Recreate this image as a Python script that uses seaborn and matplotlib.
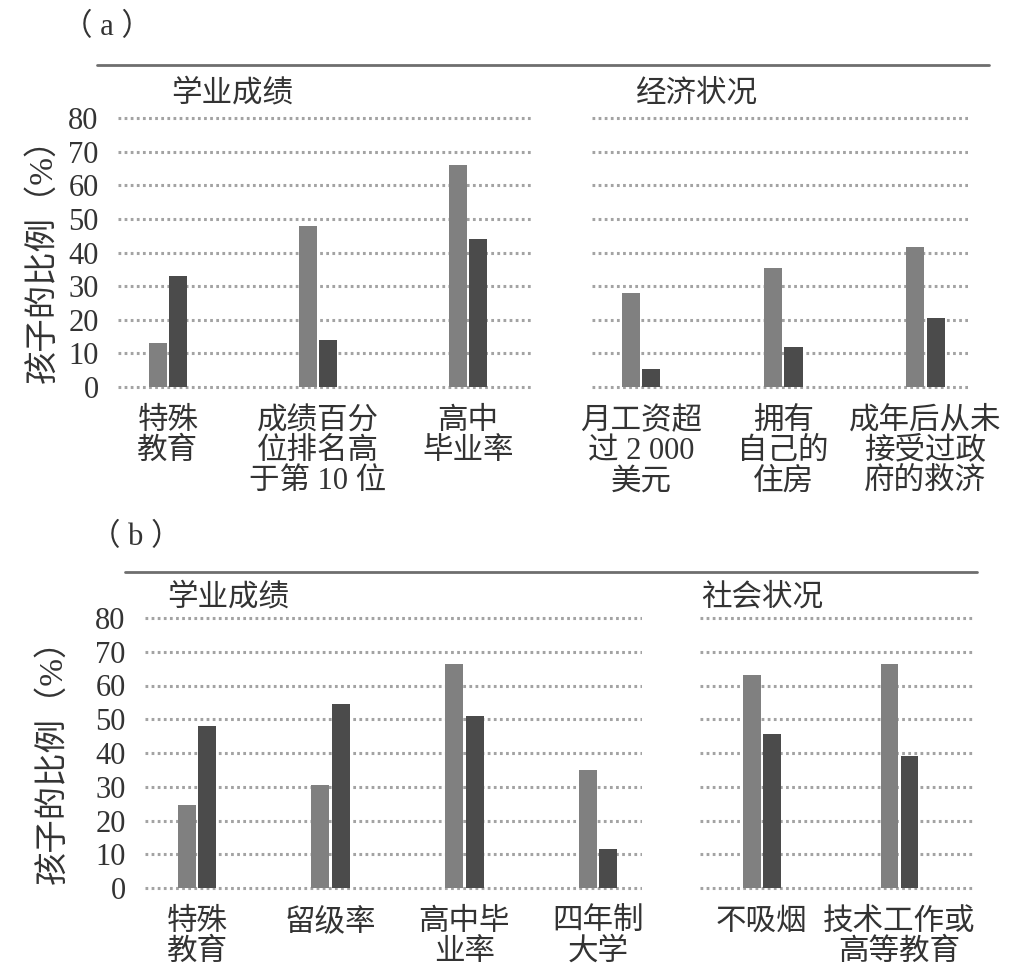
import matplotlib
matplotlib.use("Agg")
import matplotlib.pyplot as plt
from matplotlib.lines import Line2D
import seaborn as sns
import pandas as pd

# data
series = ["浅色组", "深色组"]

a_acad_cats = ["特殊\n教育", "成绩百分\n位排名高\n于第 10 位", "高中\n毕业率"]
a_acad_light = [13, 48, 66]
a_acad_dark = [33, 14, 44]

a_econ_cats = ["月工资超\n过 2 000\n美元", "拥有\n自己的\n住房", "成年后从未\n接受过政\n府的救济"]
a_econ_light = [28, 35.5, 41.5]
a_econ_dark = [5.5, 12, 20.5]

b_acad_cats = ["特殊\n教育", "留级率", "高中毕\n业率", "四年制\n大学"]
b_acad_light = [24.5, 30.5, 66.5, 35]
b_acad_dark = [48, 54.5, 51, 11.5]

b_soc_cats = ["不吸烟", "技术工作或\n高等教育"]
b_soc_light = [63, 66.5]
b_soc_dark = [45.5, 39]

y_ticks = [0, 10, 20, 30, 40, 50, 60, 70, 80]
y_label = "孩子的比例（%）"

sns.set_theme(style="white")
plt.rcParams['font.family'] = ['Liberation Serif', 'Noto Sans CJK SC', 'DejaVu Sans']
txt = "#333333"
colors = ["#808080", "#4b4b4b"]

W, H = 1018, 967
fig = plt.figure(figsize=(W/100, H/100), dpi=100)
fig.patch.set_facecolor("white")


def px_axes(x0, x1, y80, y0):
    # axes whose y range -1..81 maps so that 80 -> y80 px and 0 -> y0 px
    u = (y0 - y80) / 80.0
    top = y80 - u
    bot = y0 + u
    return fig.add_axes([x0/W, 1 - bot/H, (x1 - x0)/W, (bot - top)/H])


def draw(ax, cats, light, dark, width, xlim, show_y):
    df = pd.DataFrame({
        "类别": cats + cats,
        "数值": light + dark,
        "组": [series[0]]*len(cats) + [series[1]]*len(cats),
    })
    ax.set_axisbelow(True)
    sns.barplot(data=df, x="类别", y="数值", hue="组", order=cats,
                hue_order=series, palette=colors, width=width, gap=0.12,
                linewidth=0, errorbar=None, legend=False, ax=ax)
    ax.set_xlim(*xlim)
    ax.set_ylim(-1, 81)
    ax.set_yticks(y_ticks)
    ax.yaxis.grid(True, linestyle=(0, (0.9, 1.1)), linewidth=2.2, color="#a3a3a3")
    ax.xaxis.grid(False)
    for s in ax.spines.values():
        s.set_visible(False)
    ax.set_xlabel("")
    ax.tick_params(axis="x", length=0, pad=12, labelsize=22, labelcolor=txt)
    ax.tick_params(axis="y", length=0, pad=14, labelsize=22, labelcolor=txt)
    for lab in ax.get_xticklabels():
        lab.set_linespacing(1.05)
    if show_y:
        ax.set_ylabel(y_label, fontsize=24, color=txt)
    else:
        ax.set_ylabel("")
        ax.set_yticklabels([])


ax1 = px_axes(118, 531, 118, 387)
draw(ax1, a_acad_cats, a_acad_light, a_acad_dark, 0.273, (-0.333, 2.42), True)
ax1.yaxis.set_label_coords((58 - 118)/413, 0.5)

ax2 = px_axes(592, 968, 118, 387)
draw(ax2, a_econ_cats, a_econ_light, a_econ_dark, 0.29, (-0.345, 2.30), False)

ax3 = px_axes(145, 642, 618, 888)
draw(ax3, b_acad_cats, b_acad_light, b_acad_dark, 0.306, (-0.39, 3.33), True)
ax3.yaxis.set_label_coords((68 - 145)/497, 0.5)

ax4 = px_axes(700, 975, 618, 888)
draw(ax4, b_soc_cats, b_soc_light, b_soc_dark, 0.29, (-0.45, 1.55), False)

# panel marks, rules and group titles
fig.text(62/W, 1 - 28/H, "（ a ）", fontsize=22, color=txt, ha="left", va="center")
fig.text(90/W, 1 - 538/H, "（ b ）", fontsize=22, color=txt, ha="left", va="center")
fig.add_artist(Line2D([97/W, 989/W], [1 - 65/H, 1 - 65/H], transform=fig.transFigure,
                      color="#6e6e6e", linewidth=2))
fig.add_artist(Line2D([125/W, 977/W], [1 - 572/H, 1 - 572/H], transform=fig.transFigure,
                      color="#6e6e6e", linewidth=2))
fig.text(232/W, 1 - 94/H, "学业成绩", fontsize=22, color=txt, ha="center", va="center")
fig.text(697/W, 1 - 94/H, "经济状况", fontsize=22, color=txt, ha="center", va="center")
fig.text(228/W, 1 - 598/H, "学业成绩", fontsize=22, color=txt, ha="center", va="center")
fig.text(762/W, 1 - 598/H, "社会状况", fontsize=22, color=txt, ha="center", va="center")

fig.savefig("out.png", dpi=100, facecolor="white")
